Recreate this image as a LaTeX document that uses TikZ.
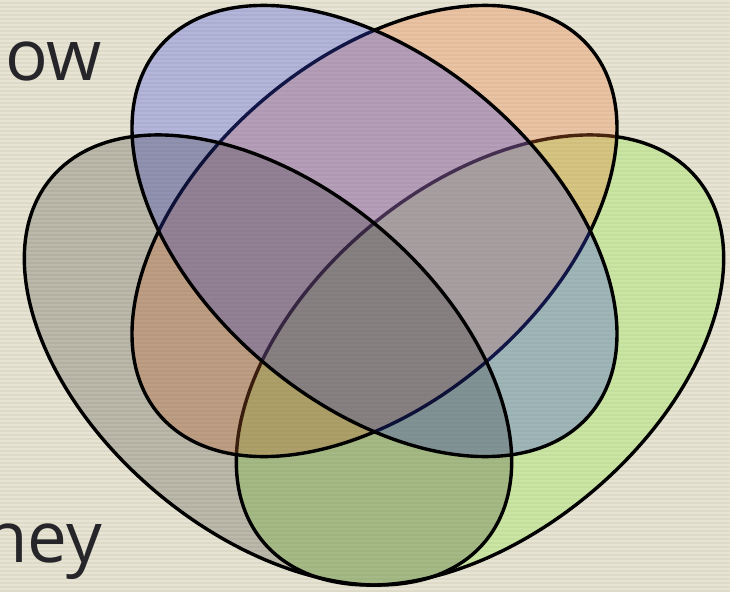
\documentclass[tikz,border=0pt]{standalone}
\usepackage{fontspec}
\setmainfont{Open Sans}
\definecolor{bgbase}{RGB}{221,218,200}
\definecolor{bgstripe}{RGB}{231,228,213}
\definecolor{txt}{RGB}{38,38,42}
\definecolor{cgreen}{RGB}{152,232,75}
\definecolor{corange}{RGB}{239,120,53}
\definecolor{cblue}{RGB}{59,73,233}
\definecolor{cgray}{RGB}{0,0,0}
\tikzset{
  vset/.style={draw=black, line width=3.4pt},
  lbl/.style={anchor=base east, inner sep=0pt, text=txt, font=\fontsize{71}{80}\selectfont}
}
\begin{document}
\begin{tikzpicture}[x=1pt,y=-1pt]
\useasboundingbox (0,0) rectangle (730,592);
\clip (0,0) rectangle (730,592);
\fill[bgbase] (0,0) rectangle (730,592);
\foreach \i in {0,4,...,588} {
  \fill[bgstripe] (0,\i) rectangle (730,\i+2);
}
\coordinate (gnc) at (480,360);
\coordinate (orc) at (374.5,231);
\coordinate (blc) at (374.5,231);
\coordinate (gyc) at (268,360);
% green
\filldraw[vset, fill=cgreen, fill opacity=0.35, rotate around={40:(gnc)}] (gnc) ellipse [x radius=283, y radius=173];
% orange
\filldraw[vset, fill=corange, fill opacity=0.3, rotate around={40.5:(orc)}] (orc) ellipse [x radius=283, y radius=172];
% blue
\filldraw[vset, fill=cblue, fill opacity=0.3, rotate around={-40.5:(blc)}] (blc) ellipse [x radius=283, y radius=172];
% gray
\filldraw[vset, fill=cgray, fill opacity=0.19, rotate around={-40:(gyc)}] (gyc) ellipse [x radius=283, y radius=173];
\node[lbl] (ow) at (102,80) {ow};
\node[lbl] (ney) at (102,562) {ney};
\end{tikzpicture}
\end{document}
